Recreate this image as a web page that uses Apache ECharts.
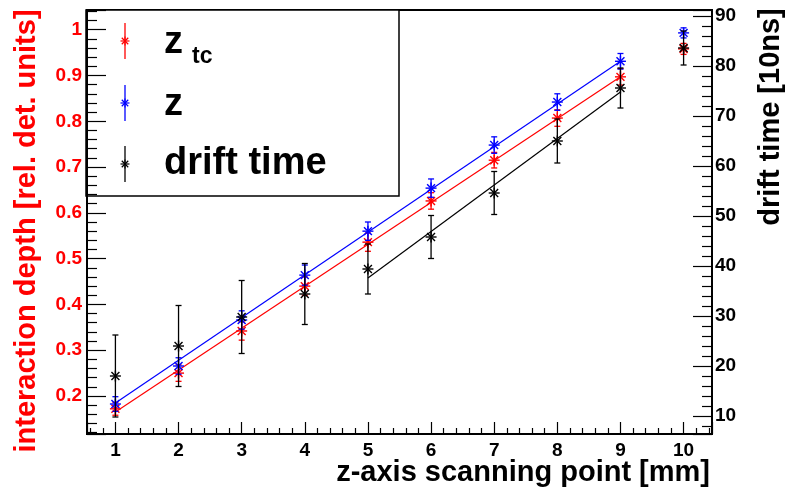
<!DOCTYPE html>
<html>
<head>
<meta charset="utf-8">
<script src="https://cdn.jsdelivr.net/npm/echarts@6/dist/echarts.min.js"></script>
<style>html,body{margin:0;padding:0;background:#fff;}#c{width:792px;height:488px;}</style>
</head>
<body>
<div id="c"></div>
<script>
// ---- data ----
const scanPoints = [1, 2, 3, 4, 5, 6, 7, 8, 9, 10];
const ztcValues  = [0.172, 0.250, 0.342, 0.440, 0.536, 0.626, 0.715, 0.807, 0.897, 0.958];
const ztcErrors  = [0.014, 0.018, 0.020, 0.020, 0.020, 0.018, 0.017, 0.018, 0.018, 0.012];
const zValues    = [0.1825, 0.2655, 0.366, 0.464, 0.560, 0.654, 0.748, 0.842, 0.931, 0.993];
const zErrors    = [0.016, 0.018, 0.020, 0.022, 0.020, 0.020, 0.018, 0.018, 0.017, 0.011];
const driftValues = [18.0, 24.0, 29.8, 34.4, 39.4, 45.8, 54.6, 65.0, 75.6, 83.6];
const driftErrors = [8.2, 8.1, 7.3, 6.1, 5.0, 4.3, 4.3, 4.4, 4.0, 3.4];
// fit lines (end points)
const ztcFitX = [1, 9],   ztcFitY = [0.165, 0.897];
const zFitX = [1, 9],     zFitY = [0.1847, 0.931];
const driftFitX = [5, 9], driftFitY = [37.6, 74.8];
// labels
const legendNames = ['z', 'z', 'drift time'];
const xTitle = 'z-axis scanning point [mm]';
const yLeftTitle = 'interaction depth [rel. det. units]';
const yRightTitle = 'drift time [10ns]';

const FONT = '"Liberation Sans", Arial, Helvetica, sans-serif';

function starShapes(cx, cy, color, r, w) {
  const d = r * 0.72;
  const seg = (x1, y1, x2, y2) => ({type: 'line', shape: {x1, y1, x2, y2}, style: {stroke: color, lineWidth: w}});
  return [
    seg(cx - r, cy, cx + r, cy),
    seg(cx, cy - r, cx, cy + r),
    seg(cx - d, cy - d, cx + d, cy + d),
    seg(cx - d, cy + d, cx + d, cy - d)
  ];
}

function errStar(color) {
  return function (params, api) {
    const x = api.value(0), y = api.value(1), e = api.value(2);
    const c = api.coord([x, y]);
    const t = api.coord([x, y + e]);
    const b = api.coord([x, y - e]);
    const cap = 3;
    const seg = (x1, y1, x2, y2, w) => ({type: 'line', shape: {x1, y1, x2, y2}, style: {stroke: color, lineWidth: w}});
    return {
      type: 'group',
      children: [
        seg(c[0], t[1], c[0], b[1], 1.3),
        seg(c[0] - cap, t[1], c[0] + cap, t[1], 1.3),
        seg(c[0] - cap, b[1], c[0] + cap, b[1], 1.3)
      ].concat(starShapes(c[0], c[1], color, 5.5, 1.4))
    };
  };
}

function mk(xs, ys, es) { return xs.map((x, i) => [x, ys[i], es[i]]); }
function line(xs, ys) { return xs.map((x, i) => [x, ys[i]]); }

const axisLabelBase = {fontFamily: FONT, fontWeight: 'bold', fontSize: 19, showMinLabel: false, showMaxLabel: false};

// legend graphic
function legendEntry(cy, color) {
  return [{type: 'line', shape: {x1: 125, y1: cy - 18, x2: 125, y2: cy + 18}, style: {stroke: color, lineWidth: 1.3}}]
    .concat(starShapes(125, cy, color, 4.5, 1.2));
}

const chart = echarts.init(document.getElementById('c'), null, {renderer: 'canvas'});
chart.setOption({
  animation: false,
  backgroundColor: '#fff',
  grid: {left: 87, right: 80, top: 10, bottom: 54, show: true, borderColor: '#000', borderWidth: 2, backgroundColor: 'transparent'},
  xAxis: {
    type: 'value', min: 0.55, max: 10.45, splitNumber: 10,
    axisLine: {onZero: false, lineStyle: {color: '#000', width: 2}},
    axisTick: {inside: true, length: 12, lineStyle: {color: '#000', width: 1.2}},
    minorTick: {show: true, splitNumber: 5, length: 6, lineStyle: {color: '#000', width: 1.2}},
    splitLine: {show: false},
    axisLabel: Object.assign({}, axisLabelBase, {color: '#000', margin: 7})
  },
  yAxis: [{
    type: 'value', position: 'left', min: 0.117, max: 1.043, splitNumber: 9,
    axisLine: {show: true, onZero: false, lineStyle: {color: '#000', width: 2}},
    axisTick: {show: true, inside: true, length: 19, lineStyle: {color: '#000', width: 1.2}},
    minorTick: {show: true, splitNumber: 5, length: 10, lineStyle: {color: '#000', width: 1.2}},
    splitLine: {show: false},
    axisLabel: Object.assign({}, axisLabelBase, {color: '#ff0000', margin: 5})
  }, {
    type: 'value', position: 'right', min: 6.4, max: 91.2, splitNumber: 8,
    axisLine: {show: true, onZero: false, lineStyle: {color: '#000', width: 2}},
    axisTick: {show: true, inside: true, length: 19, lineStyle: {color: '#000', width: 1.2}},
    minorTick: {show: true, splitNumber: 5, length: 10, lineStyle: {color: '#000', width: 1.2}},
    splitLine: {show: false},
    axisLabel: Object.assign({}, axisLabelBase, {color: '#000', margin: 3})
  }],
  series: [
    {type: 'line', yAxisIndex: 0, data: line(ztcFitX, ztcFitY), symbol: 'none', lineStyle: {color: '#ff0000', width: 1.2}, z: 2, silent: true},
    {type: 'line', yAxisIndex: 0, data: line(zFitX, zFitY), symbol: 'none', lineStyle: {color: '#0000ff', width: 1.2}, z: 2, silent: true},
    {type: 'line', yAxisIndex: 1, data: line(driftFitX, driftFitY), symbol: 'none', lineStyle: {color: '#000', width: 1.2}, z: 2, silent: true},
    {type: 'custom', name: 'z_tc', yAxisIndex: 0, renderItem: errStar('#ff0000'), data: mk(scanPoints, ztcValues, ztcErrors), encode: {x: 0, y: 1}, z: 3, clip: false},
    {type: 'custom', name: 'z', yAxisIndex: 0, renderItem: errStar('#0000ff'), data: mk(scanPoints, zValues, zErrors), encode: {x: 0, y: 1}, z: 4, clip: false},
    {type: 'custom', name: 'drift time', yAxisIndex: 1, renderItem: errStar('#000000'), data: mk(scanPoints, driftValues, driftErrors), encode: {x: 0, y: 1}, z: 5, clip: false}
  ],
  graphic: [
    {type: 'group', z: 100, children: [
      {type: 'rect', shape: {x: 86, y: 10, width: 313, height: 186}, style: {fill: '#fff', stroke: '#000', lineWidth: 1.5}},
    ].concat(legendEntry(41, '#ff0000'), legendEntry(103, '#0000ff'), legendEntry(164, '#000000'), [
      {type: 'text', x: 164, y: 43, style: {text: legendNames[0], font: 'bold 38px ' + FONT, fill: '#000', verticalAlign: 'middle', align: 'left'}},
      {type: 'text', x: 192, y: 57, style: {text: 'tc', font: 'bold 23px ' + FONT, fill: '#000', verticalAlign: 'middle', align: 'left'}},
      {type: 'text', x: 164, y: 105, style: {text: legendNames[1], font: 'bold 38px ' + FONT, fill: '#000', verticalAlign: 'middle', align: 'left'}},
      {type: 'text', x: 164, y: 164, style: {text: legendNames[2], font: 'bold 38px ' + FONT, fill: '#000', verticalAlign: 'middle', align: 'left'}}
    ])},
    {type: 'text', z: 100, x: 27, y: 231, rotation: Math.PI / 2, style: {text: yLeftTitle, font: 'bold 29px ' + FONT, fill: '#ff0000', align: 'center', verticalAlign: 'middle'}},
    {type: 'text', z: 100, x: 771, y: 117, rotation: Math.PI / 2, style: {text: yRightTitle, font: 'bold 29px ' + FONT, fill: '#000', align: 'center', verticalAlign: 'middle'}},
    {type: 'text', z: 100, x: 710, y: 473, style: {text: xTitle, font: 'bold 29px ' + FONT, fill: '#000', align: 'right', verticalAlign: 'middle'}}
  ]
});
</script>
</body>
</html>
